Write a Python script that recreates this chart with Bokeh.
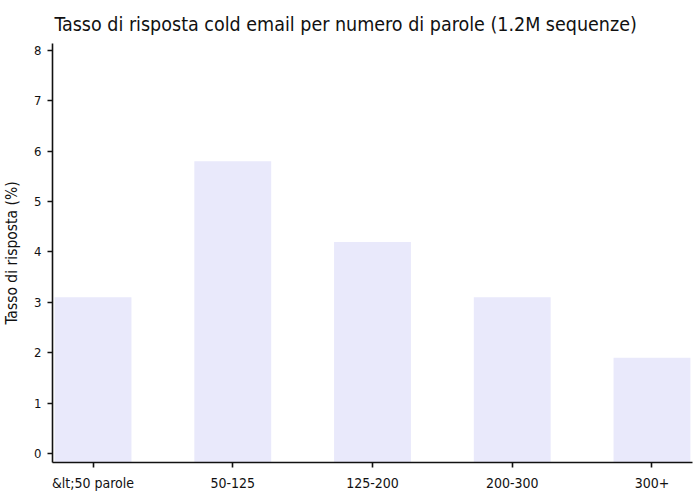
from bokeh.plotting import figure
from bokeh.models import FactorRange, Range1d, FixedTicker
from bokeh.embed import file_html
from bokeh.resources import INLINE

categories = ["&lt;50 parole", "50-125", "125-200", "200-300", "300+"]
reply_rates = [3.1, 5.8, 4.2, 3.1, 1.9]
y_ticks = [0, 1, 2, 3, 4, 5, 6, 7, 8]

FONT = "DejaVu Sans Condensed"
y_start, y_end = -0.179, 8.139

p = figure(
    x_range=FactorRange(factors=categories, range_padding=-0.21, range_padding_units="absolute"),
    y_range=Range1d(y_start, y_end),
    width=700, height=500,
    output_backend="svg", toolbar_location=None,
    title="Tasso di risposta cold email per numero di parole (1.2M sequenze)",
    min_border_left=52, min_border_right=8, min_border_top=43, min_border_bottom=38,
)
p.vbar(x=categories, top=reply_rates, bottom=y_start, width=0.55,
       fill_color="#e9e9fb", line_color=None)

p.title.text_font = FONT
p.title.text_font_size = "19.5px"
p.title.text_font_style = "normal"
p.title.text_color = "#111111"
p.title.offset = 2
p.title.standoff = 16

p.outline_line_color = None
p.xgrid.grid_line_color = None
p.ygrid.grid_line_color = None
p.background_fill_color = "white"

for ax in (p.xaxis[0], p.yaxis[0]):
    ax.axis_line_color = "#111111"
    ax.axis_line_width = 1.6
    ax.major_tick_line_color = "#111111"
    ax.major_tick_line_width = 1.6
    ax.major_tick_out = 5
    ax.major_tick_in = 0
    ax.minor_tick_line_color = None
    ax.major_label_text_font = FONT
    ax.major_label_text_color = "#111111"

p.yaxis.major_label_text_font_size = "13px"
p.xaxis.major_label_text_font_size = "14px"
p.yaxis.ticker = FixedTicker(ticks=y_ticks)
p.yaxis.major_label_standoff = 6
p.yaxis.axis_label = "Tasso di risposta (%)"
p.yaxis.axis_label_text_font = FONT
p.yaxis.axis_label_text_font_size = "15.5px"
p.yaxis.axis_label_text_font_style = "normal"
p.yaxis.axis_label_text_color = "#111111"
p.yaxis.axis_label_standoff = 10
p.xaxis.major_label_standoff = 7

open("out.html", "w").write(file_html(p, INLINE))
